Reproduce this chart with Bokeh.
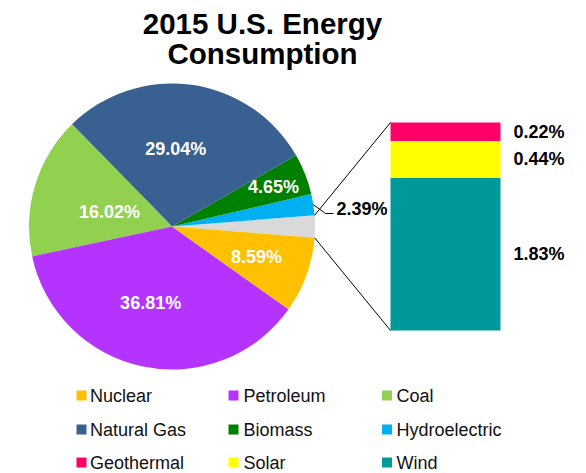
import numpy as np
from bokeh.plotting import figure
from bokeh.models import Range1d, ColumnDataSource
from bokeh.embed import file_html
from bokeh.resources import INLINE
from bokeh.core.properties import value

# ---------------- data ----------------
title_lines = ["2015 U.S. Energy", "Consumption"]

pie_names = ["Other Renewables", "Hydroelectric", "Biomass", "Natural Gas",
             "Coal", "Petroleum", "Nuclear"]
pie_values = [2.49, 2.39, 4.65, 29.04, 16.02, 36.81, 8.59]
pie_colors = ["#D9D9D9", "#00B0F0", "#008000", "#386090",
              "#92D050", "#B433FF", "#FFC000"]

bar_names = ["Wind", "Solar", "Geothermal"]
bar_values = [1.83, 0.44, 0.22]
bar_colors = ["#009999", "#FFFF00", "#FF0066"]

legend_names = ["Nuclear", "Petroleum", "Coal",
                "Natural Gas", "Biomass", "Hydroelectric",
                "Geothermal", "Solar", "Wind"]
legend_colors = ["#FFC000", "#B433FF", "#92D050",
                 "#386090", "#008000", "#00B0F0",
                 "#FF0066", "#FFFF00", "#009999"]

# ---------------- layout ----------------
FONT = value("Liberation Sans")
W, H = 586, 473


def py(v):
    """page pixel row -> data y"""
    return H - v


p = figure(width=W, height=H, x_range=Range1d(0, W), y_range=Range1d(0, H),
           output_backend="svg", toolbar_location=None, min_border=0)
p.axis.visible = False
p.grid.visible = False
p.outline_line_color = None
p.background_fill_color = "white"
p.border_fill_color = "white"

# title
p.text(x=[262, 262], y=[py(22.5), py(52.5)], text=title_lines,
       text_font=FONT, text_font_style="bold", text_font_size="29.5px",
       text_align="center", text_baseline="middle", text_color="#000000")

# ---------------- pie ----------------
cx, cy, R = 171.5, py(226), 143
vals = np.array(pie_values, dtype=float)
ang = 2 * np.pi * vals / vals.sum()
start = -ang[0] / 2 + np.concatenate([[0.0], np.cumsum(ang)[:-1]])
end = start + ang
mid = (start + end) / 2

pie_src = ColumnDataSource(dict(start=start, end=end, color=pie_colors, name=pie_names))
p.wedge(x=cx, y=cy, radius=R, start_angle="start", end_angle="end",
        fill_color="color", line_color=None, source=pie_src)

# inside labels (slices 2..6); label distance / angle shift as layout choices
label_r = [0, 0, 109, 78, 64, 79, 90]
label_da = [0, 0, 0, 0.09, 0.07, -0.07, 0]
lx, ly, lt = [], [], []
for i in range(2, len(vals)):
    a = mid[i] + label_da[i]
    lx.append(cx + label_r[i] * np.cos(a))
    ly.append(cy + label_r[i] * np.sin(a))
    lt.append(f"{pie_values[i]:.2f}%")
p.text(x=lx, y=ly, text=lt, text_font=FONT, text_font_style="bold",
       text_font_size="18px", text_color="white",
       text_align="center", text_baseline="middle")

# hydro label with leader line
hx = cx + R * np.cos(mid[1])
hy = cy + R * np.sin(mid[1])
p.line(x=[hx, 325, 333], y=[hy, py(213), py(213)], line_color="black", line_width=1)
p.text(x=[336], y=[py(208)], text=[f"{pie_values[1]:.2f}%"], text_font=FONT,
       text_font_style="bold", text_font_size="18px", text_color="black",
       text_align="left", text_baseline="middle")

# ---------------- bar of pie ----------------
bl, br, bbottom, bheight = 390, 500, py(330), 208
bv = np.array(bar_values, dtype=float)
scale = bheight / bv.sum()
tops = bbottom + np.cumsum(bv) * scale
bottoms = tops - bv * scale
bar_src = ColumnDataSource(dict(bottom=bottoms, top=tops, color=bar_colors, name=bar_names))
p.quad(left=bl, right=br, bottom="bottom", top="top", fill_color="color",
       line_color=None, source=bar_src)
p.text(x=[513] * len(bv), y=list((bottoms + tops) / 2),
       text=[f"{v:.2f}%" for v in bar_values], text_font=FONT,
       text_font_style="bold", text_font_size="18px", text_color="black",
       text_align="left", text_baseline="middle")

# connector lines from the grey slice to the bar
gx1 = cx + R * np.cos(end[0]); gy1 = cy + R * np.sin(end[0])
gx2 = cx + R * np.cos(start[0]); gy2 = cy + R * np.sin(start[0])
p.segment(x0=[gx1, gx2], y0=[gy1, gy2], x1=[bl, bl], y1=[tops[-1], bbottom],
          line_color="black", line_width=1)

# ---------------- legend ----------------
sq_x = [81, 233, 386.5]
tx_x = [89.5, 243, 396]
row_mid = [py(395), py(429), py(462)]
sx, sy, txs, tys = [], [], [], []
for k, name in enumerate(legend_names):
    r, c = divmod(k, 3)
    sx.append(sq_x[c]); sy.append(row_mid[r])
    txs.append(tx_x[c]); tys.append(row_mid[r])
p.rect(x=sx, y=sy, width=10, height=10, fill_color=legend_colors, line_color=None)
p.text(x=txs, y=tys, text=legend_names, text_font=FONT, text_font_size="18px",
       text_color="#111111", text_align="left", text_baseline="middle")

open("out.html", "w").write(file_html(p, INLINE))
